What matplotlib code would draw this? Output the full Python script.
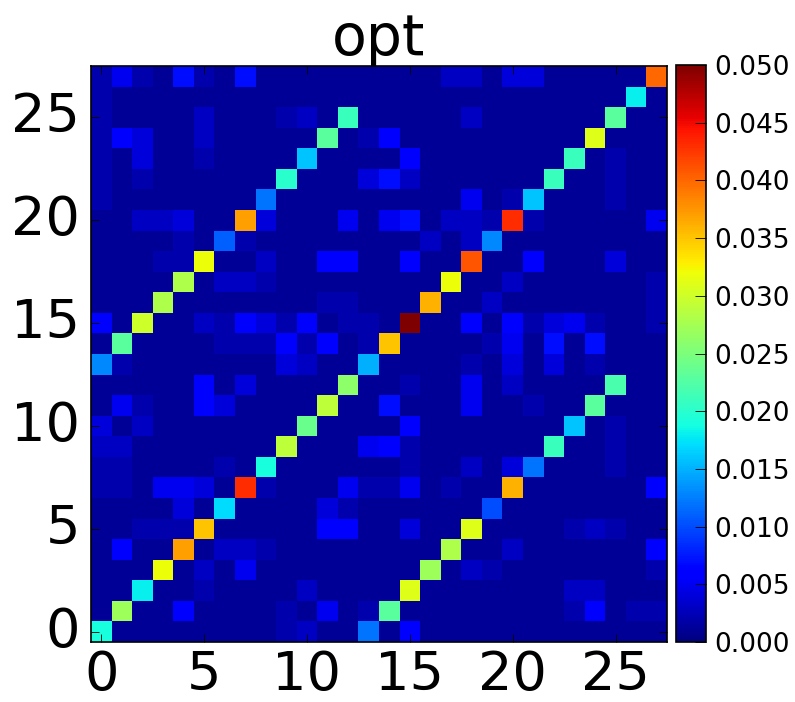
import numpy as np
import matplotlib
matplotlib.use('Agg')
import matplotlib.pyplot as plt
from matplotlib.transforms import ScaledTranslation

# Values in thousandths, rows listed from the top of the picture (row 27) down to row 0
row27 = [2,5,2,1,7,2,1,7,1,1,1,1,1,1,1,1,1,3,3,1,4,4,1,1,1,1,1,40]
row26 = [2,1,1,1,1,1,1,1,1,1,1,1,1,1,1,1,1,1,1,1,1,1,1,1,1,1,18,1]
row25 = [2,1,1,1,1,3,1,1,1,2,3,1,21,1,1,1,1,1,3,1,1,1,1,1,1,23,1,1]
row24 = [2,6,4,1,1,3,1,1,1,1,1,23,1,2,6,1,1,1,1,1,1,1,1,1,31,1,1,1]
row23 = [2,1,4,1,1,2,1,1,1,1,16,1,1,1,1,6,1,1,1,1,1,1,1,21,1,2,1,1]
row22 = [2,1,2,1,1,1,1,1,1,20,1,1,1,4,7,3,1,1,1,1,1,1,21,1,1,2,1,1]
row21 = [2,1,1,1,1,1,1,1,12,1,1,1,1,1,1,1,1,1,5,1,2,16,1,1,1,2,1,1]
row20 = [1,1,3,3,4,1,1,37,4,1,1,1,5,1,5,7,1,3,3,2,43,2,1,1,1,1,1,5]
row19 = [1,1,1,1,2,1,11,2,1,1,1,1,1,1,1,1,3,1,3,13,1,1,1,1,1,1,1,1]
row18 = [1,1,1,2,2,32,1,1,3,1,1,6,6,1,1,6,1,1,41,1,1,6,1,1,1,4,1,1]
row17 = [1,1,1,1,28,1,3,3,2,1,1,1,1,1,1,1,1,32,1,1,3,1,1,1,1,1,1,2]
row16 = [1,1,1,28,1,1,1,1,1,1,1,2,2,1,1,1,36,1,1,3,1,1,1,1,1,1,1,2]
row15 = [6,1,30,1,1,3,2,6,4,2,6,1,2,2,1,50,1,1,6,1,6,2,4,5,2,1,1,2]
row14 = [1,23,1,1,1,1,2,2,2,6,2,6,1,2,35,1,1,1,1,2,5,1,7,1,7,1,1,1]
row13 = [13,2,1,1,1,1,1,1,1,4,3,1,1,15,1,1,1,1,2,1,4,1,4,1,2,1,1,1]
row12 = [1,1,1,1,1,6,1,4,1,1,1,1,26,1,1,2,1,1,5,1,3,1,1,1,1,22,1,1]
row11 = [1,5,2,1,1,6,4,1,1,1,1,29,1,1,7,1,1,1,5,1,1,2,1,1,23,1,1,1]
row10 = [4,1,3,1,1,1,1,1,1,1,24,1,1,1,1,6,1,1,1,1,1,1,1,16,1,2,1,1]
row9  = [3,3,1,1,1,1,1,1,1,29,1,1,1,5,6,2,1,1,1,1,1,1,21,1,1,2,1,1]
row8  = [2,2,1,1,1,1,2,1,19,1,1,1,1,1,1,2,1,1,3,1,4,12,1,1,1,2,1,1]
row7  = [2,2,1,5,5,4,1,43,2,1,1,1,5,2,2,5,1,2,1,1,36,1,1,1,1,1,1,6]
row6  = [1,1,1,1,4,1,17,1,1,1,1,4,2,1,1,1,1,1,1,10,1,1,1,1,1,1,1,1]
row5  = [1,1,2,2,2,35,1,1,1,1,1,6,6,1,1,4,1,1,31,1,1,1,1,2,3,2,1,1]
row4  = [1,6,1,1,37,1,3,3,2,1,1,1,1,1,1,1,1,28,1,1,3,1,1,1,1,1,1,6]
row3  = [1,1,1,32,1,3,1,5,1,1,1,1,1,1,1,1,27,1,3,2,1,1,1,1,1,1,1,2]
row2  = [1,1,18,1,1,2,1,1,1,1,3,1,1,1,1,31,1,1,1,1,1,1,1,3,3,1,1,1]
row1  = [1,27,1,1,6,1,1,1,1,2,1,5,1,2,23,1,1,1,1,1,1,1,1,2,6,1,2,2]
row0  = [19,1,1,1,1,1,1,1,1,2,3,1,1,12,1,6,1,1,1,1,1,1,1,1,1,1,1,1]
rows_top_down = [row27,row26,row25,row24,row23,row22,row21,row20,row19,row18,
                 row17,row16,row15,row14,row13,row12,row11,row10,row9,row8,
                 row7,row6,row5,row4,row3,row2,row1,row0]
axis_ticks = [0, 5, 10, 15, 20, 25]
cbar_ticks = [0.000, 0.005, 0.010, 0.015, 0.020, 0.025, 0.030, 0.035, 0.040, 0.045, 0.050]
title = 'opt'

W, H = 795, 702
fig = plt.figure(figsize=(W/100, H/100), dpi=100)
ax = fig.add_axes([91/W, (H-642)/H, 576/W, 576/H])
M = np.array(rows_top_down[::-1], dtype=float) / 1000
im = ax.imshow(M, cmap='jet', vmin=0, vmax=0.05, origin='lower',
               interpolation='nearest', aspect='auto')
ax.set_xticks(axis_ticks)
ax.set_yticks(axis_ticks)
ax.tick_params(direction='in', length=6, width=0.6, labelsize=39, pad=5,
               top=True, right=True, color='black')
ax.tick_params(axis='y', pad=8)
for lab in ax.get_yticklabels():
    lab.set_transform(lab.get_transform() + ScaledTranslation(0, 4/72, fig.dpi_scale_trans))
for s in ax.spines.values():
    s.set_linewidth(1.2)
ax.set_title(title, fontsize=41, pad=8)

cax = fig.add_axes([676/W, (H-642)/H, 30/W, 577/H])
cb = fig.colorbar(im, cax=cax)
cb.set_ticks(cbar_ticks)
cb.set_ticklabels(['%.3f' % t for t in cbar_ticks])
cax.tick_params(direction='in', length=8, width=0.6, labelsize=19, pad=6)
cb.outline.set_linewidth(1.2)
fig.savefig('out.png', dpi=100)
